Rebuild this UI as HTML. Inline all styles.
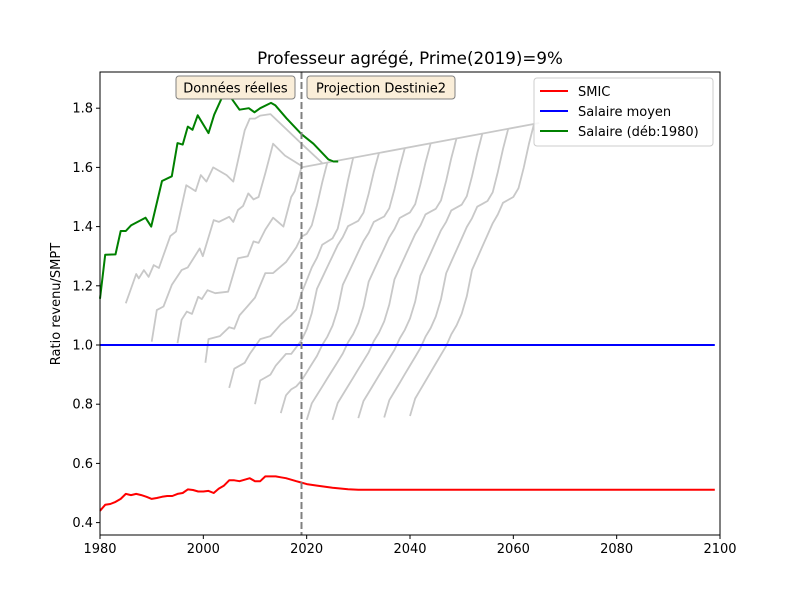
<!DOCTYPE html>
<html><head><meta charset="utf-8"><style>
body{margin:0;background:#fff;font-family:"Liberation Sans","DejaVu Sans",sans-serif}
svg text{font-family:"DejaVu Sans","Liberation Sans",sans-serif}
</style></head><body>
<svg id="chart" width="800" height="600" xmlns="http://www.w3.org/2000/svg">
<rect width="800" height="600" fill="#fff"/>
<g id="marks"></g>
<g id="axes"></g>
</svg>
<script>
const xTicks=[1980,2000,2020,2040,2060,2080,2100];
const yTicks=[0.4,0.6,0.8,1.0,1.2,1.4,1.6,1.8];
const yTickLabels=["0.4","0.6","0.8","1.0","1.2","1.4","1.6","1.8"];
const smicYears=[1980,1981,1982,1983,1984,1985,1986,1987,1988,1989,1990,1991,1992,1993,1994,1995,1996,1997,1998,1999,2000,2001,2002,2003,2004,2005,2006,2007,2008,2009,2010,2011,2012,2013,2014,2015,2016,2017,2018,2019,2020,2022,2025,2028,2030,2099];
const smicValues=[0.44,0.46,0.463,0.47,0.48,0.497,0.493,0.497,0.493,0.487,0.48,0.483,0.487,0.49,0.49,0.497,0.50,0.512,0.51,0.505,0.505,0.507,0.50,0.515,0.525,0.543,0.543,0.54,0.545,0.55,0.54,0.54,0.556,0.556,0.556,0.553,0.55,0.545,0.54,0.535,0.53,0.525,0.518,0.513,0.511,0.511];
const meanYears=[1980,2099];
const meanValues=[1.0,1.0];
const greenYears=[1980,1981,1983,1984,1985,1986,1988.8,1989.9,1992,1993.9,1995,1996,1997,1997.9,1998.9,2001,2002.1,2004,2004.8,2007,2008.8,2009.9,2011,2013.1,2013.9,2016.1,2019,2021.3,2024.2,2025.2,2026.1];
const greenValues=[1.156,1.305,1.306,1.385,1.385,1.404,1.43,1.40,1.554,1.57,1.682,1.677,1.738,1.727,1.776,1.716,1.778,1.851,1.849,1.795,1.80,1.786,1.80,1.818,1.81,1.766,1.712,1.68,1.627,1.62,1.62];
const cohort1985=[[1985,1.141],[1987,1.24],[1987.5,1.225],[1988.5,1.253],[1989.4,1.23],[1990.4,1.27],[1991.4,1.26],[1993.6,1.368],[1994.7,1.383],[1996.7,1.54],[1998.5,1.52],[1999.5,1.574],[2000.6,1.552],[2001.9,1.60],[2004.5,1.574],[2005.8,1.552],[2008,1.725],[2009,1.765],[2010,1.765],[2011,1.775],[2013,1.78],[2016,1.73],[2019,1.68],[2023,1.615]];
const cohort1990=[[1990,1.011],[1991,1.118],[1992.3,1.13],[1993.9,1.203],[1995.8,1.253],[1997,1.262],[1999.3,1.326],[1999.9,1.30],[2002,1.422],[2003,1.416],[2005,1.433],[2005.8,1.416],[2006.7,1.456],[2007.7,1.47],[2008.7,1.512],[2009.7,1.492],[2010.7,1.50],[2012,1.58],[2013.5,1.68],[2015.8,1.64],[2019,1.605]];
const cohort1995=[[1995,1.006],[1995.8,1.085],[1996.8,1.113],[1997.8,1.105],[1999,1.163],[1999.7,1.155],[2000.8,1.185],[2002.3,1.175],[2004.8,1.18],[2006.7,1.293],[2008.6,1.30],[2009.7,1.35],[2010.7,1.345],[2012,1.39],[2013.5,1.43],[2015.5,1.40],[2017,1.50],[2017.7,1.52],[2019,1.60]];
const cohort2000=[[2000.4,0.94],[2001,1.02],[2003.2,1.03],[2005,1.06],[2006,1.055],[2007,1.10],[2008.5,1.13],[2010,1.16],[2012,1.243],[2013.5,1.243],[2016,1.28],[2018,1.33],[2019,1.366]];
const cohort2005=[[2005,0.855],[2006,0.92],[2008,0.94],[2009,0.97],[2011,1.02],[2013,1.03],[2015,1.07],[2017,1.10],[2018,1.12],[2019,1.175]];
const cohort2010=[[2010,0.80],[2011,0.88],[2013,0.90],[2014,0.93],[2016,0.97],[2017,0.97],[2019,1.016]];
const cohort2015=[[2015,0.77],[2016,0.83],[2017,0.85],[2018,0.86],[2019,0.88]];
const realCohorts=[cohort1985,cohort1990,cohort1995,cohort2000,cohort2005,cohort2010,cohort2015];
const projStarts=[2000,2005,2010,2015,2020,2025,2030,2035,2040];
const projStartValues=[1.366,1.175,1.016,0.88,0.747,0.747,0.753,0.755,0.76];
const careerProfile=[0,0.06,0.09,0.12,0.15,0.18,0.21,0.24,0.28,0.31,0.35,0.41,0.5,0.54,0.58,0.62,0.66,0.69,0.73,0.74,0.75,0.78,0.85,0.93,1.0];
const topLineYears=[2019,2065];
const topLineValues=[1.60,1.75];

const L=100,R=720,T=72,B=535;
const xS=v=>L+(v-1980)/(2100-1980)*(R-L);
const yS=v=>345-(v-1.0)*296;
const NS="http://www.w3.org/2000/svg";
const marks=document.getElementById('marks'), axes=document.getElementById('axes');
function mk(tag,attrs,parent){const e=document.createElementNS(NS,tag);for(const k in attrs)e.setAttribute(k,attrs[k]);parent.appendChild(e);return e;}
function poly(pts,color,w,name){const p=mk('polyline',{points:pts.map(q=>xS(q[0]).toFixed(1)+','+yS(q[1]).toFixed(1)).join(' '),fill:'none',stroke:color,'stroke-width':w,'stroke-linejoin':'round'},marks);

return p;}
function topAt(yr){return topLineValues[0]+(yr-topLineYears[0])*(topLineValues[1]-topLineValues[0])/(topLineYears[1]-topLineYears[0]);}
const GRAY="#c8c8c8";
realCohorts.forEach(c=>poly(c,GRAY,1.8,'real-cohort-line'));
poly(topLineYears.map((y,i)=>[y,topLineValues[i]]),GRAY,1.8,'top-grade-line');
projStarts.forEach((s,i)=>{
  const k0=Math.max(0,2019-s);const v0=projStartValues[i];
  const top=topAt(s+24);const pts=[];const p0=careerProfile[k0];
  for(let k=k0;k<careerProfile.length;k++){pts.push([s+k,v0+(top-v0)*(careerProfile[k]-p0)/(1-p0)]);}
  poly(pts,GRAY,1.8,'projected-cohort-line');
});
poly(meanYears.map((y,i)=>[y,meanValues[i]]),'#0000ff',2,'salaire-moyen-line');
poly(smicYears.map((y,i)=>[y,smicValues[i]]),'#ff0000',2,'smic-line');
poly(greenYears.map((y,i)=>[y,greenValues[i]]),'#008000',2,'salaire-deb1980-line');
let d=mk('line',{x1:xS(2019),x2:xS(2019),y1:T,y2:B,stroke:'#808080','stroke-width':2,'stroke-dasharray':'7,3'},marks);


let fr=mk('rect',{x:L,y:T,width:R-L,height:B-T,fill:'none',stroke:'#000','stroke-width':1},axes);


xTicks.forEach(v=>{mk('line',{x1:xS(v),x2:xS(v),y1:B,y2:B+4,stroke:'#000'},axes);
 const t=mk('text',{x:xS(v),y:B+18,'text-anchor':'middle','font-size':13},axes);t.textContent=v;
 
 });
yTicks.forEach((v,i)=>{mk('line',{x1:L-4,x2:L,y1:yS(v),y2:yS(v),stroke:'#000'},axes);
 const t=mk('text',{x:L-7,y:yS(v)+4.5,'text-anchor':'end','font-size':13},axes);t.textContent=yTickLabels[i];
 
 });
</script>
<svg style="position:absolute;left:0;top:0" width="800" height="600">
<text x="410" y="64" text-anchor="middle" font-size="16.7">Professeur agrégé, Prime(2019)=9%</text>
<text transform="translate(60,304) rotate(-90)" text-anchor="middle" font-size="13">Ratio revenu/SMPT</text>
<g>
<rect x="176" y="76" width="119" height="23" rx="3" fill="#faeed9" stroke="#808080" stroke-width="1"/>
<text x="235.5" y="92.5" text-anchor="middle" font-size="13">Données réelles</text></g>
<g>
<rect x="307" y="76" width="148" height="23" rx="3" fill="#faeed9" stroke="#808080" stroke-width="1"/>
<text x="381" y="92.5" text-anchor="middle" font-size="13">Projection Destinie2</text></g>
<g>
<rect x="534" y="78" width="179" height="68" rx="3" fill="#fff" fill-opacity="0.85" stroke="#ccc"/>
<line x1="540" x2="568" y1="91" y2="91" stroke="#f00" stroke-width="2"/>
<text x="578" y="96" font-size="13">SMIC</text>
<line x1="540" x2="568" y1="111" y2="111" stroke="#00f" stroke-width="2"/>
<text x="578" y="116" font-size="13">Salaire moyen</text>
<line x1="540" x2="568" y1="131" y2="131" stroke="#008000" stroke-width="2"/>
<text x="578" y="136" font-size="13">Salaire (déb:1980)</text></g>
</svg>
</body></html>
